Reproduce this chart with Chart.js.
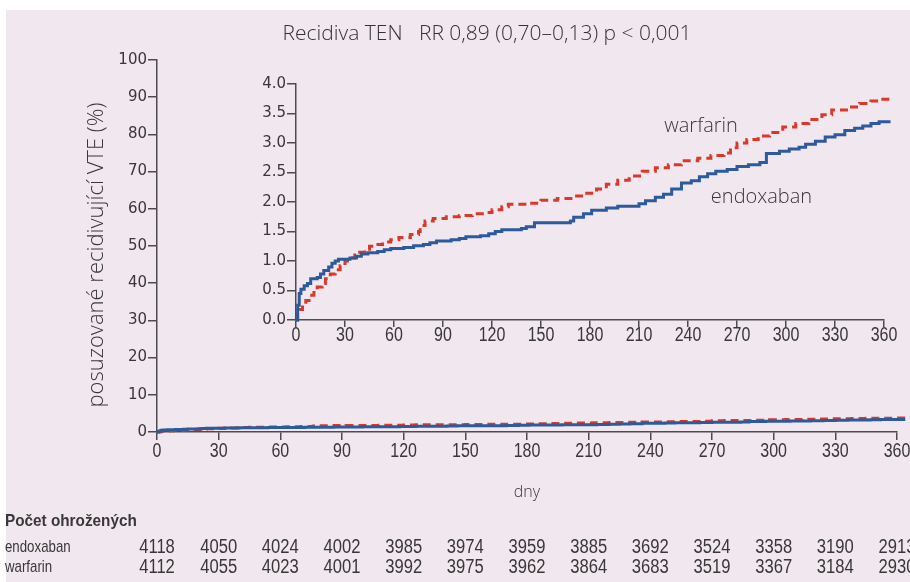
<!DOCTYPE html>
<html>
<head>
<meta charset="utf-8">
<script src="https://cdn.jsdelivr.net/npm/chart.js@4.4.0/dist/chart.umd.min.js"></script>
<style>
html, body { margin: 0; padding: 0; background: #fff; }
#wrap { position: relative; width: 910px; height: 582px; overflow: hidden; }
#panel { position: absolute; left: 6px; top: 10px; right: 0; bottom: 0; background: #f1e7ee; }
#main { position: absolute; left: 0; top: 0; }
#inset { position: absolute; left: 240px; top: 60px; }
</style>
</head>
<body>
<div id="wrap">
  <div id="panel"></div>
  <canvas id="main" width="910" height="582"></canvas>
  <canvas id="inset" width="670" height="300"></canvas>
</div>
<script>
// kumulativni incidence (%)
const endoxabanDays = [0, 1, 2, 3, 5, 7, 9, 13, 15, 17, 20, 22, 24, 26, 33, 37, 40, 44, 50, 54, 58, 66, 72, 78, 82, 86, 95, 100, 104, 113, 118, 122, 126, 138, 141, 146, 168, 170, 176, 181, 190, 197, 210, 214, 220, 225, 230, 236, 242, 247, 252, 257, 264, 270, 277, 284, 288, 296, 302, 308, 312, 318, 324, 330, 336, 342, 347, 352, 357, 364];
const endoxabanRisk = [0, 0.25, 0.45, 0.52, 0.58, 0.62, 0.70, 0.72, 0.78, 0.84, 0.90, 0.96, 1.00, 1.03, 1.05, 1.08, 1.12, 1.14, 1.16, 1.19, 1.21, 1.23, 1.26, 1.28, 1.31, 1.34, 1.36, 1.38, 1.41, 1.43, 1.46, 1.50, 1.53, 1.55, 1.58, 1.65, 1.68, 1.74, 1.80, 1.86, 1.90, 1.93, 1.97, 2.02, 2.08, 2.13, 2.22, 2.32, 2.36, 2.43, 2.48, 2.52, 2.55, 2.60, 2.63, 2.67, 2.82, 2.86, 2.90, 2.93, 2.98, 3.03, 3.10, 3.14, 3.21, 3.25, 3.29, 3.33, 3.36, 3.36];

const warfarinDays = [0, 1, 2, 4, 6, 8, 11, 13, 16, 18, 21, 24, 27, 30, 33, 36, 39, 42, 45, 49, 53, 58, 63, 70, 75, 76, 79, 84, 92, 100, 108, 115, 120, 126, 130, 143, 150, 160, 170, 178, 184, 190, 197, 204, 212, 220, 228, 236, 246, 254, 262, 266, 270, 276, 283, 290, 298, 306, 314, 322, 328, 338, 345, 352, 358, 364];
const warfarinRisk = [0, 0.10, 0.18, 0.25, 0.33, 0.42, 0.50, 0.56, 0.62, 0.70, 0.78, 0.85, 0.92, 1.00, 1.05, 1.10, 1.15, 1.20, 1.25, 1.28, 1.32, 1.36, 1.40, 1.45, 1.50, 1.60, 1.68, 1.72, 1.75, 1.77, 1.80, 1.82, 1.87, 1.92, 1.96, 1.98, 2.03, 2.06, 2.10, 2.15, 2.22, 2.30, 2.37, 2.44, 2.52, 2.58, 2.63, 2.70, 2.74, 2.79, 2.83, 2.92, 3.00, 3.06, 3.12, 3.18, 3.27, 3.33, 3.40, 3.48, 3.56, 3.61, 3.67, 3.71, 3.74, 3.75];

const dayTicks = [0, 30, 60, 90, 120, 150, 180, 210, 240, 270, 300, 330, 360];
const mainYTicks = [0, 10, 20, 30, 40, 50, 60, 70, 80, 90, 100];
const insetYTicks = [0, 0.5, 1, 1.5, 2, 2.5, 3, 3.5, 4];

const atRiskEndoxaban = [4118, 4050, 4024, 4002, 3985, 3974, 3959, 3885, 3692, 3524, 3358, 3190, 2913];
const atRiskWarfarin = [4112, 4055, 4023, 4001, 3992, 3975, 3962, 3864, 3683, 3519, 3367, 3184, 2930];

const chartTitle = 'Recidiva TEN   RR 0,89 (0,70–0,13) p < 0,001';
const yTitle = 'posuzované recidivující VTE (%)';
const xTitle = 'dny';
const tableTitle = 'Počet ohrožených';
const seriesNames = ['endoxaban', 'warfarin'];

const BLUE = '#2d5a9b';
const RED = '#d8392b';
const AXIS = '#4c4c4c';
const TXT = '#383838';
const SANS = '"Liberation Sans", Arial, sans-serif';

function toPoints(days, vals) {
    return days.map((d, i) => ({ x: d, y: vals[i] }));
}

function makeDatasets() {
    return [
        { label: seriesNames[0], data: toPoints(endoxabanDays, endoxabanRisk), borderColor: BLUE, borderWidth: 3, stepped: true, pointRadius: 0, clip: false },
        { label: seriesNames[1], data: toPoints(warfarinDays, warfarinRisk), borderColor: RED, borderWidth: 3, borderDash: [8, 5], stepped: true, pointRadius: 0, clip: false }
    ];
}

// uzky text (napodobeni condensed pisma)
function narrowText(ctx, text, x, y, sx) {
    ctx.save();
    ctx.translate(x, y);
    ctx.scale(sx, 1);
    ctx.fillText(text, 0, 0);
    ctx.restore();
}

function drawDayLabels(chart, y) {
    const ctx = chart.ctx, xs = chart.scales.x;
    ctx.save();
    ctx.fillStyle = TXT;
    ctx.textAlign = 'center';
    ctx.textBaseline = 'middle';
    ctx.font = '20px ' + SANS;
    xs.ticks.forEach(t => narrowText(ctx, String(t.value), xs.getPixelForValue(t.value), y, 0.8));
    ctx.restore();
}

const textPlugin = {
    id: 'texty',
    afterDraw(chart) {
        const ctx = chart.ctx;
        const x = chart.scales.x;
        drawDayLabels(chart, 451);
        ctx.save();
        ctx.fillStyle = '#333';
        ctx.textBaseline = 'middle';
        ctx.textAlign = 'center';
        ctx.font = '300 21px "Open Sans", sans-serif';
        ctx.fillText(chartTitle, 487, 34);

        // popis osy y
        ctx.save();
        ctx.translate(97, 255);
        ctx.rotate(-Math.PI / 2);
        ctx.font = '300 22px "Open Sans", sans-serif';
        ctx.fillStyle = TXT;
        ctx.fillText(yTitle, 0, 0);
        ctx.restore();

        ctx.fillStyle = TXT;
        ctx.textAlign = 'left';
        ctx.font = 'bold 17px ' + SANS;
        narrowText(ctx, tableTitle, 5, 521, 0.9);
        ctx.font = '17px ' + SANS;
        narrowText(ctx, seriesNames[0], 5, 547, 0.78);
        narrowText(ctx, seriesNames[1], 5, 567, 0.78);

        ctx.textAlign = 'center';
        ctx.font = '20px ' + SANS;
        dayTicks.forEach((d, i) => {
            const px = x.getPixelForValue(d);
            narrowText(ctx, String(atRiskEndoxaban[i]), px, 547, 0.83);
            narrowText(ctx, String(atRiskWarfarin[i]), px, 567, 0.83);
        });
        ctx.restore();
    }
};

new Chart(document.getElementById('main'), {
    type: 'line',
    data: { datasets: makeDatasets() },
    options: {
        responsive: false,
        animation: false,
        layout: { padding: { left: 88, top: 60, right: 13, bottom: 80 } },
        plugins: { legend: { display: false }, tooltip: { enabled: false } },
        scales: {
            x: {
                type: 'linear', min: 0, max: 360,
                afterBuildTicks: s => { s.ticks = dayTicks.map(v => ({ value: v })); },
                afterFit: s => { s.height = 70; },
                border: { display: true, color: AXIS, width: 1.5 },
                grid: { drawOnChartArea: false, drawTicks: true, tickLength: 8, color: AXIS, lineWidth: 1.5 },
                ticks: { display: false },
                title: { display: true, text: xTitle, color: TXT, padding: 0, font: { family: '"Open Sans", sans-serif', size: 16, weight: 300 } }
            },
            y: {
                min: 0, max: 100,
                afterBuildTicks: s => { s.ticks = mainYTicks.map(v => ({ value: v })); },
                afterFit: s => { s.width = 69; },
                border: { display: true, color: AXIS, width: 1.5 },
                grid: { drawOnChartArea: false, drawTicks: true, tickLength: 9, color: AXIS, lineWidth: 1.5 },
                ticks: { color: TXT, padding: 1, font: { family: '"DejaVu Sans", sans-serif', size: 15 } }
            }
        }
    },
    plugins: [textPlugin]
});

const labelPlugin = {
    id: 'popisky',
    afterDraw(chart) {
        const ctx = chart.ctx;
        const x = chart.scales.x, y = chart.scales.y;
        drawDayLabels(chart, 275);
        ctx.save();
        ctx.fillStyle = TXT;
        ctx.textAlign = 'center';
        ctx.textBaseline = 'middle';
        ctx.font = '300 20px "Open Sans", sans-serif';
        ctx.fillText(seriesNames[1], x.getPixelForValue(248), y.getPixelForValue(3.29));
        ctx.fillText(seriesNames[0], x.getPixelForValue(285), y.getPixelForValue(2.08));
        ctx.restore();
    }
};

new Chart(document.getElementById('inset'), {
    type: 'line',
    data: { datasets: makeDatasets() },
    options: {
        responsive: false,
        animation: false,
        layout: { padding: { left: 0, top: 24, right: 26, bottom: 0 } },
        plugins: { legend: { display: false }, tooltip: { enabled: false } },
        scales: {
            x: {
                type: 'linear', min: 0, max: 360,
                afterBuildTicks: s => { s.ticks = dayTicks.map(v => ({ value: v })); },
                afterFit: s => { s.height = 40; },
                border: { display: true, color: AXIS, width: 1.5 },
                grid: { drawOnChartArea: false, drawTicks: true, tickLength: 7, color: AXIS, lineWidth: 1.5 },
                ticks: { display: false }
            },
            y: {
                min: 0, max: 4,
                afterBuildTicks: s => { s.ticks = insetYTicks.map(v => ({ value: v })); },
                afterFit: s => { s.width = 56; },
                border: { display: true, color: AXIS, width: 1.5 },
                grid: { drawOnChartArea: false, drawTicks: true, tickLength: 9, color: AXIS, lineWidth: 1.5 },
                ticks: { color: TXT, padding: 1, font: { family: '"DejaVu Sans", sans-serif', size: 15 }, callback: v => v.toFixed(1) }
            }
        }
    },
    plugins: [labelPlugin]
});
</script>
</body>
</html>
